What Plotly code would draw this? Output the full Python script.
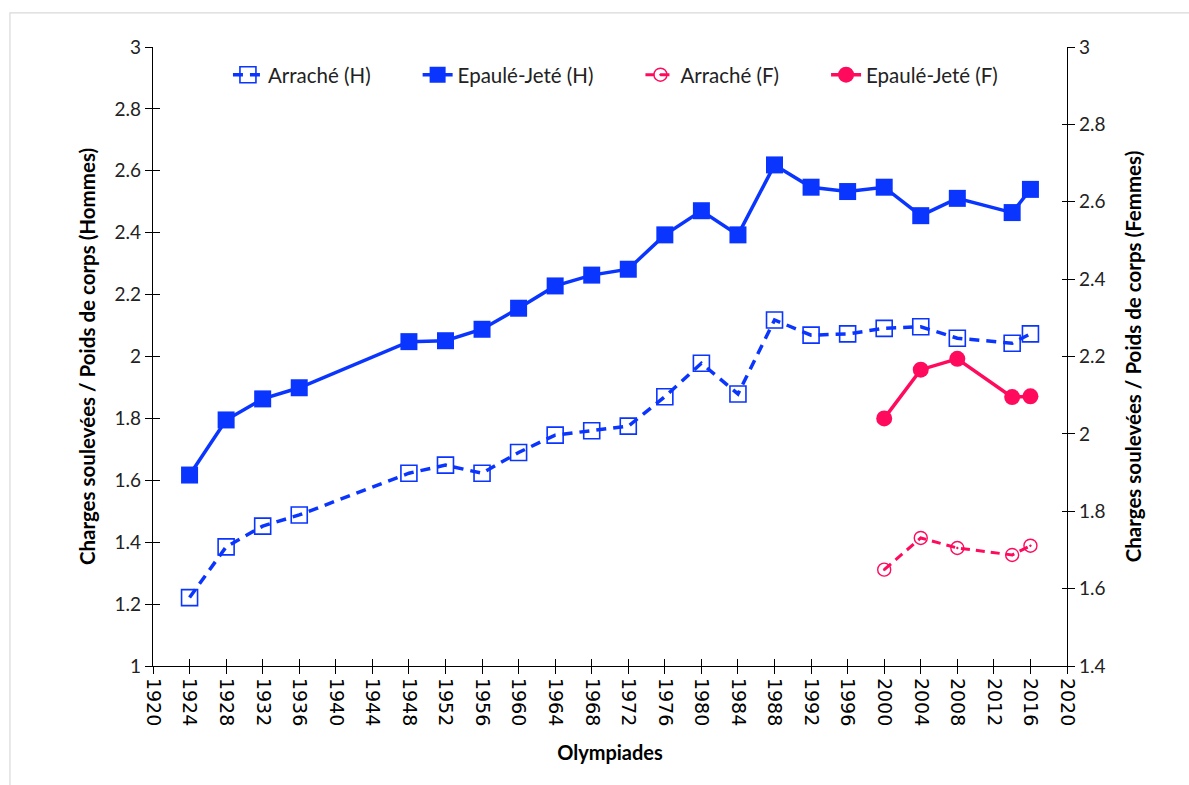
import plotly.graph_objects as go

# Men's lifts (ratio load / body weight), left axis
years_h = [1924, 1928, 1932, 1936, 1948, 1952, 1956, 1960, 1964, 1968, 1972,
           1976, 1980, 1984, 1988, 1992, 1996, 2000, 2004, 2008, 2014, 2016]
arrache_h = [1.221, 1.385, 1.452, 1.488, 1.623, 1.649, 1.623, 1.690, 1.746, 1.760, 1.775,
             1.870, 1.978, 1.879, 2.118, 2.069, 2.073, 2.091, 2.096, 2.059, 2.043, 2.073]
epaule_h = [1.617, 1.795, 1.863, 1.899, 2.048, 2.051, 2.088, 2.156, 2.228, 2.263, 2.282,
            2.393, 2.471, 2.393, 2.619, 2.547, 2.533, 2.547, 2.455, 2.511, 2.465, 2.540]

# Women's lifts, right axis
years_f = [2000, 2004, 2008, 2014, 2016]
arrache_f = [1.649, 1.731, 1.705, 1.687, 1.711]
epaule_f = [2.040, 2.166, 2.194, 2.095, 2.097]

x_ticks = list(range(1920, 2021, 4))
left_ticks = [1, 1.2, 1.4, 1.6, 1.8, 2, 2.2, 2.4, 2.6, 2.8, 3]
right_ticks = [1.4, 1.6, 1.8, 2, 2.2, 2.4, 2.6, 2.8, 3]

BLUE = "#0a35ff"
PINK = "#ff0a5c"
FONT = "Lato"
PAD = "\u00a0" * 8  # spacing between legend entries


def legend_name(text):
    return text + PAD


fig = go.Figure()

fig.add_trace(go.Scatter(
    x=years_h, y=arrache_h, name=legend_name("Arraché (H)"), mode="lines+markers",
    line=dict(color=BLUE, width=3.5, dash="10px,7px"),
    marker=dict(symbol="square-open", size=16, color=BLUE, line=dict(width=1.6)),
))
fig.add_trace(go.Scatter(
    x=years_h, y=epaule_h, name=legend_name("Epaulé-Jeté (H)"), mode="lines+markers",
    line=dict(color=BLUE, width=3.5),
    marker=dict(symbol="square", size=17, color=BLUE),
))
fig.add_trace(go.Scatter(
    x=years_f, y=arrache_f, name=legend_name("Arraché (F)"), mode="lines+markers", yaxis="y2",
    line=dict(color=PINK, width=3, dash="9px,6px"),
    marker=dict(symbol="circle-open-dot", size=13, color=PINK, line=dict(width=1.4)),
))
fig.add_trace(go.Scatter(
    x=years_f, y=epaule_f, name="Epaulé-Jeté (F)", mode="lines+markers", yaxis="y2",
    line=dict(color=PINK, width=3.5),
    marker=dict(symbol="circle", size=16, color=PINK),
))

# Empty traces carrying the inner halves of the crossing tick marks
fig.add_trace(go.Scatter(x=[None], y=[None], xaxis="x2", yaxis="y3",
                         showlegend=False, hoverinfo="skip"))
fig.add_trace(go.Scatter(x=[None], y=[None], xaxis="x2", yaxis="y4",
                         showlegend=False, hoverinfo="skip"))

axis_common = dict(showgrid=False, zeroline=False, showline=True,
                   linecolor="black", linewidth=1.3, tickcolor="black",
                   tickwidth=1.3)

fig.update_layout(
    width=1189, height=785,
    margin=dict(l=153, r=122, t=47, b=119),
    paper_bgcolor="white", plot_bgcolor="white",
    font=dict(family=FONT, size=19, color="#222"),
    showlegend=True,
    legend=dict(orientation="h", x=0.082, y=0.955, xanchor="left", yanchor="middle",
                font=dict(family=FONT, size=20.5, color="#222"),
                bgcolor="rgba(0,0,0,0)", itemwidth=30, tracegroupgap=0),
    xaxis=dict(range=[1920, 2020], tickvals=x_ticks, ticktext=[str(v) for v in x_ticks],
               tickangle=90, ticks="outside", ticklen=7,
               tickfont=dict(family="DejaVu Sans", size=19, color="black"),
               title=dict(text="<b>Olympiades</b>", font=dict(family=FONT, size=20, color="black"),
                          standoff=20),
               **axis_common),
    yaxis=dict(range=[1, 3], tickvals=left_ticks, ticks="outside", ticklen=7,
               tickfont=dict(family=FONT, size=19, color="#222"),
               title=dict(text="<b>Charges soulevées / Poids de corps (Hommes)</b>",
                          font=dict(family=FONT, size=20.5, color="black"), standoff=13),
               **axis_common),
    yaxis2=dict(range=[1.4, 3], tickvals=right_ticks, overlaying="y", side="right",
                ticks="outside", ticklen=7, anchor="x",
                tickfont=dict(family=FONT, size=19, color="#222"),
                title=dict(text="<b>Charges soulevées / Poids de corps (Femmes)</b>",
                           font=dict(family=FONT, size=20.5, color="black"), standoff=22),
                **axis_common),
    xaxis2=dict(range=[1920, 2020], tickvals=x_ticks, overlaying="x", anchor="y",
                ticks="inside", ticklen=7, showticklabels=False, **axis_common),
    yaxis3=dict(range=[1, 3], tickvals=left_ticks, overlaying="y", anchor="x", side="left",
                ticks="inside", ticklen=7, showticklabels=False, **axis_common),
    yaxis4=dict(range=[1.4, 3], tickvals=right_ticks, overlaying="y", anchor="x", side="right",
                ticks="inside", ticklen=5, showticklabels=False, **axis_common),
    shapes=[dict(type="rect", xref="paper", yref="paper",
                 x0=-0.1565, x1=1.2, y0=-0.3, y1=1.055,
                 line=dict(color="#d9d9d9", width=1.2), fillcolor="rgba(0,0,0,0)",
                 layer="below")],
)

fig.write_html("out.html")
